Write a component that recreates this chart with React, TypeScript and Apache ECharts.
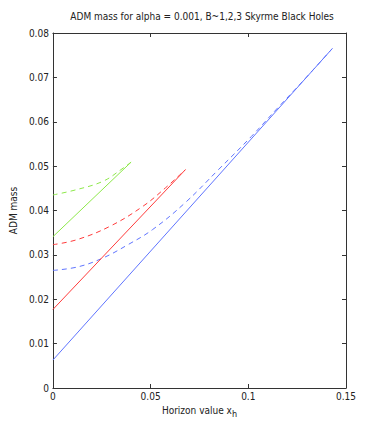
import React, { useEffect, useRef } from "react";
import * as echarts from "echarts";

const xTicks = [0, 0.05, 0.1, 0.15];
const yTicks = [0, 0.01, 0.02, 0.03, 0.04, 0.05, 0.06, 0.07, 0.08];

// B=1 (blue)
const b1Solid: [number, number][] = [[0, 0.0063], [0.143, 0.0765]];
const b1Dashed: [number, number][] = [
  [0, 0.0265], [0.0128, 0.0273], [0.0256, 0.0293], [0.038, 0.0322], [0.051, 0.0357],
  [0.0678, 0.0418], [0.0847, 0.0492], [0.1016, 0.0567], [0.115, 0.0631],
  [0.128, 0.0692], [0.143, 0.0765],
];
// B=2 (red)
const b2Solid: [number, number][] = [[0, 0.0177], [0.0678, 0.0492]];
const b2Dashed: [number, number][] = [
  [0, 0.0323], [0.0121, 0.0334], [0.029, 0.0364], [0.0459, 0.0409],
  [0.0576, 0.0451], [0.0678, 0.0492],
];
// B=3 (green)
const b3Solid: [number, number][] = [[0, 0.0341], [0.04, 0.0509]];
const b3Dashed: [number, number][] = [
  [0, 0.0435], [0.0121, 0.0447], [0.0257, 0.0466], [0.0348, 0.0492], [0.04, 0.0509],
];

const BLUE = "#5f74ff";
const RED = "#ff3b3b";
const GREEN = "#8de84a";
const FONT = "'DejaVu Sans Condensed', 'Liberation Sans Narrow', Arial, sans-serif";
const AXIS = "#333333";

export default function App() {
  const ref = useRef<HTMLDivElement>(null);
  useEffect(() => {
    if (!ref.current) return;
    const chart = echarts.init(ref.current, undefined, { renderer: "svg" });
    const fmt = (v: number) => String(+v.toFixed(3));
    const line = (data: [number, number][], color: string, dashed: boolean) => ({
      type: "line",
      data,
      showSymbol: false,
      smooth: dashed ? 0.4 : false,
      lineStyle: { color, width: 1, type: dashed ? [5, 4] : "solid" },
      xAxisIndex: 0,
      yAxisIndex: 0,
    });
    const tick = { show: true, inside: true, length: 4, lineStyle: { color: AXIS } };
    const axisLine = { show: true, onZero: false, lineStyle: { color: AXIS, width: 1 } };
    chart.setOption({
      animation: false,
      backgroundColor: "#ffffff",
      title: {
        text: "ADM mass for alpha = 0.001, B~1,2,3 Skyrme Black Holes",
        left: 197,
        textAlign: "center",
        top: 6,
        textStyle: { fontFamily: FONT, fontSize: 10, fontWeight: "normal", color: "#222" },
      },
      grid: { left: 49, right: 36, top: 33, bottom: 48 },
      xAxis: [
        {
          type: "value",
          min: 0,
          max: 0.15,
          interval: 0.05,
          position: "bottom",
          name: "Horizon value x{sub|h}",
          nameLocation: "middle",
          nameGap: 14,
          nameTextStyle: {
            fontFamily: FONT, fontSize: 10, color: "#222",
            rich: { sub: { fontFamily: FONT, fontSize: 9, color: "#222", verticalAlign: "bottom", padding: [6, 0, 0, 0] } },
          },
          axisLine,
          axisTick: tick,
          axisLabel: { fontFamily: FONT, fontSize: 10, color: "#222", margin: 3, formatter: fmt },
          splitLine: { show: false },
        },
        {
          type: "value",
          min: 0,
          max: 0.15,
          interval: 0.05,
          position: "top",
          axisLine,
          axisTick: tick,
          axisLabel: { show: false },
          splitLine: { show: false },
        },
      ],
      yAxis: [
        {
          type: "value",
          min: 0,
          max: 0.08,
          interval: 0.01,
          position: "left",
          name: "ADM mass",
          nameLocation: "middle",
          nameGap: 19,
          nameRotate: 90,
          nameTextStyle: { fontFamily: FONT, fontSize: 10, color: "#222" },
          axisLine,
          axisTick: tick,
          axisLabel: { fontFamily: FONT, fontSize: 10, color: "#222", margin: 4, formatter: fmt },
          splitLine: { show: false },
        },
        {
          type: "value",
          min: 0,
          max: 0.08,
          interval: 0.01,
          position: "right",
          axisLine,
          axisTick: tick,
          axisLabel: { show: false },
          splitLine: { show: false },
        },
      ],
      series: [
        line(b1Solid, BLUE, false),
        line(b1Dashed, BLUE, true),
        line(b2Solid, RED, false),
        line(b2Dashed, RED, true),
        line(b3Solid, GREEN, false),
        line(b3Dashed, GREEN, true),
      ],
    });
    return () => chart.dispose();
  }, []);
  return <div ref={ref} style={{ width: 382, height: 436, position: "absolute", left: 0, top: 0 }} />;
}
